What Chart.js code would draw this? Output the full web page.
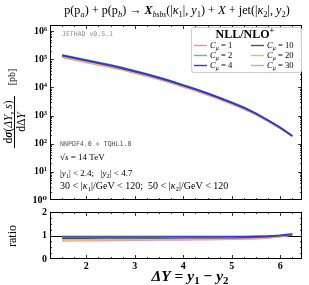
<!DOCTYPE html>
<html><head><meta charset="utf-8">
<script src="https://cdn.jsdelivr.net/npm/chart.js@4.4.1/dist/chart.umd.min.js"></script>
<style>
html,body{margin:0;padding:0;background:#fff;}
#wrap{position:relative;width:309px;height:285px;overflow:hidden;}
canvas{position:absolute;left:0;top:0;}
</style></head><body>
<div id="wrap"><canvas id="c1" width="309" height="285"></canvas><canvas id="c2" width="309" height="285"></canvas></div>
<script>
// ---------- data ----------
const deltaY = [1.5,1.75,2,2.25,2.5,2.75,3,3.25,3.5,3.75,4,4.25,4.5,4.75,5,5.25,5.5,5.75,6,6.25];
// reference cross section used as ratio denominator [pb]
const refXsec = [151600,123300,100200,81400,66100,52600,40800,31600,24000,17800,12900,9350,6610,4580,3090,2050,1250,700,374,181];
const muValues = [1,2,4,10,20,30];
const ratioC1  = [0.84,0.84,0.845,0.845,0.85,0.85,0.85,0.855,0.855,0.86,0.86,0.86,0.865,0.87,0.87,0.88,0.89,0.92,0.96,1.02];
const ratioC2  = [0.97,0.97,0.97,0.97,0.97,0.97,0.97,0.97,0.97,0.97,0.97,0.97,0.97,0.97,0.97,0.975,0.98,0.99,1.01,1.04];
const ratioC4  = [0.93,0.93,0.93,0.93,0.93,0.935,0.935,0.935,0.935,0.94,0.94,0.94,0.94,0.945,0.95,0.955,0.965,0.98,1.02,1.08];
const ratioC10 = [0.88,0.88,0.88,0.885,0.885,0.885,0.89,0.89,0.89,0.89,0.895,0.895,0.895,0.90,0.90,0.91,0.92,0.94,0.98,1.03];
const ratioC20 = [0.80,0.80,0.805,0.81,0.81,0.815,0.82,0.82,0.825,0.83,0.83,0.835,0.84,0.845,0.85,0.86,0.87,0.90,0.95,1.02];
const ratioC30 = [0.76,0.765,0.77,0.775,0.78,0.785,0.79,0.795,0.80,0.80,0.805,0.81,0.815,0.82,0.83,0.84,0.855,0.885,0.94,1.01];
const xTicks = [2,3,4,5,6];
const yTicksMain = [1,10,100,1000,10000,100000,1000000];
const yTicksRatio = [0,1,2];

// ---------- styling ----------
const SERIF = '"Liberation Serif", "DejaVu Serif", serif';
const MONO = '"DejaVu Sans Mono", "Liberation Mono", monospace';
const ratios = [ratioC1, ratioC2, ratioC4, ratioC10, ratioC20, ratioC30];
const colors = ['#f28e8e', '#6dbf6d', '#3030ff', '#505050', '#ffae62', '#c59ee0'];
const orders = [4, 3, 0, 1, 2, 5];
const sup = {'0':'⁰','1':'¹','2':'²','3':'³','4':'⁴','5':'⁵','6':'⁶'};

function fontOf(s, size) {
  const st = s[1] || '';
  let f = '';
  if (st.indexOf('i') >= 0) f += 'italic ';
  if (st.indexOf('b') >= 0) f += 'bold ';
  const fam = st.indexOf('m') >= 0 ? MONO : SERIF;
  return f + Math.round(size * (s[2] || 1) * 10) / 10 + 'px ' + fam;
}
function richWidth(ctx, segs, size) {
  let w = 0;
  segs.forEach(s => { ctx.font = fontOf(s, size); w += ctx.measureText(s[0]).width; });
  return w;
}
function drawRich(ctx, segs, x, y, size, align) {
  const w = richWidth(ctx, segs, size);
  let cx = align === 'center' ? x - w / 2 : (align === 'right' ? x - w : x);
  ctx.textAlign = 'left'; ctx.textBaseline = 'alphabetic';
  segs.forEach(s => {
    ctx.font = fontOf(s, size);
    ctx.fillText(s[0], cx, y + (s[3] || 0) * size);
    cx += ctx.measureText(s[0]).width;
  });
  return w;
}

function frameAndTicks(chart, yMinorVals, yMajorVals, xMinorStep) {
  const ctx = chart.ctx, a = chart.chartArea;
  const xs = chart.scales.x, ys = chart.scales.y;
  ctx.save();
  ctx.strokeStyle = '#000'; ctx.lineWidth = 1;
  ctx.strokeRect(Math.round(a.left) + 0.5, Math.round(a.top) + 0.5, Math.round(a.right - a.left) - 1, Math.round(a.bottom - a.top) - 1);
  ctx.lineWidth = 0.8;
  ctx.beginPath();
  for (let v = 1.25; v <= xs.max + 1e-9; v += xMinorStep) {
    const p = Math.round(xs.getPixelForValue(v)) + 0.5;
    const major = Math.abs(v - Math.round(v)) < 1e-6;
    const L = major ? 4 : 2;
    ctx.moveTo(p, a.bottom); ctx.lineTo(p, a.bottom - L);
    ctx.moveTo(p, a.top); ctx.lineTo(p, a.top + L);
  }
  yMajorVals.forEach(v => {
    const p = Math.round(ys.getPixelForValue(v)) + 0.5;
    if (p < a.top || p > a.bottom) return;
    ctx.moveTo(a.left, p); ctx.lineTo(a.left + 4, p);
    ctx.moveTo(a.right, p); ctx.lineTo(a.right - 4, p);
  });
  yMinorVals.forEach(v => {
    const p = Math.round(ys.getPixelForValue(v)) + 0.5;
    if (p < a.top || p > a.bottom) return;
    ctx.moveTo(a.left, p); ctx.lineTo(a.left + 2, p);
    ctx.moveTo(a.right, p); ctx.lineTo(a.right - 2, p);
  });
  ctx.stroke();
  ctx.restore();
}

const logMinor = [];
for (let d = 0; d < 7; d++) for (let k = 2; k <= 9; k++) logMinor.push(k * Math.pow(10, d));
const ratioMinor = [0.25,0.5,0.75,1.25,1.5,1.75];

const mainPlugin = {
  id: 'mainDeco',
  afterDraw(chart) {
    const ctx = chart.ctx;
    frameAndTicks(chart, logMinor, yTicksMain, 0.25);
    ctx.save();
    ctx.fillStyle = '#000';
    // title
    drawRich(ctx, [
      ['p(p','',1],['a','i',0.7,0.22],[') + p(p','',1],['b','i',0.7,0.22],[') → ','',1],
      ['X','bi',1],['bsbs','i',0.62,0.22],['(|','',1],['κ','i',1],['1','',0.7,0.22],['|, ','',1],
      ['y','i',1],['1','',0.7,0.22],[') + ','',1],['X','i',1.05],[' + jet(|','',1],['κ','i',1],['2','',0.7,0.22],
      ['|, ','',1],['y','i',1],['2','',0.7,0.22],[')','',1]
    ], 177, 14, 12.2, 'center');
    // y label (rotated fraction)
    ctx.save();
    ctx.rotate(-Math.PI / 2);
    drawRich(ctx, [['d','',1],['σ','bi',1],['(','',1],['ΔY','i',1],[', ','',1],['s','i',1],[')','',1]], -122, 12, 11.5, 'center');
    ctx.fillRect(-148, 14, 52, 1);
    drawRich(ctx, [['dΔ','',1],['Y','i',1]], -122, 25, 11.5, 'center');
    drawRich(ctx, [['[pb]','',1]], -77, 15, 10, 'center');
    ctx.restore();
    // annotations
    ctx.fillStyle = '#8c8c8c';
    drawRich(ctx, [['JETHAD v0.5.1','m',1]], 62, 36, 6.5, 'left');
    ctx.fillStyle = '#555';
    drawRich(ctx, [['NNPDF4.0 + TQHL1.0','m',1]], 60, 146, 6.6, 'left');
    ctx.fillStyle = '#000';
    drawRich(ctx, [['√','',1],['s','i',1],[' = 14 TeV','',1]], 60, 160, 9, 'left');
    drawRich(ctx, [['|','',1],['y','i',1],['1','',0.7,0.22],['| < 2.4;   |','',1],['y','i',1],['2','',0.7,0.22],['| < 4.7','',1]], 60, 176, 9, 'left');
    drawRich(ctx, [['30 < |','',1],['κ','i',1],['1','',0.7,0.22],['|/GeV < 120;  50 < |','',1],['κ','i',1],['2','',0.7,0.22],['|/GeV < 120','',1]], 60, 189, 10, 'left');
    // legend
    const lx = 191, ly = 27, lw = 110, lh = 45;
    ctx.fillStyle = 'rgba(255,255,255,0.9)';
    ctx.strokeStyle = '#cfcfcf'; ctx.lineWidth = 1;
    ctx.beginPath(); ctx.roundRect(lx + 0.5, ly + 0.5, lw, lh, 2); ctx.fill(); ctx.stroke();
    ctx.fillStyle = '#000';
    drawRich(ctx, [['NLL/NLO','b',1],['+','b',0.7,-0.4]], 245, 38, 12, 'center');
    chart.data.datasets.forEach((ds, i) => {
      const col = i < 3 ? 0 : 1, row = i % 3;
      const x0 = col === 0 ? 194 : 251, y0 = 45 + row * 10;
      ctx.strokeStyle = ds.borderColor; ctx.lineWidth = 1.4;
      ctx.beginPath(); ctx.moveTo(x0, y0 + 0.5); ctx.lineTo(x0 + 13, y0 + 0.5); ctx.stroke();
      ctx.fillStyle = '#000';
      drawRich(ctx, [['C','i',1],['μ','i',0.7,0.25],[' = ' + muValues[i],'',1]], x0 + 16, y0 + 3, 8.6, 'left');
    });
    ctx.restore();
  }
};

const ratioPlugin = {
  id: 'ratioDeco',
  beforeDatasetsDraw(chart) {
    const ctx = chart.ctx, a = chart.chartArea, ys = chart.scales.y;
    const p = Math.round(ys.getPixelForValue(1)) + 0.5;
    ctx.save(); ctx.strokeStyle = '#000'; ctx.lineWidth = 1;
    ctx.beginPath(); ctx.moveTo(a.left, p); ctx.lineTo(a.right, p); ctx.stroke(); ctx.restore();
  },
  afterDraw(chart) {
    const ctx = chart.ctx;
    frameAndTicks(chart, ratioMinor, yTicksRatio, 0.25);
    ctx.save(); ctx.fillStyle = '#000';
    ctx.save(); ctx.rotate(-Math.PI / 2);
    drawRich(ctx, [['ratio','',1]], -236, 16, 12, 'center');
    ctx.restore();
    drawRich(ctx, [['ΔY','bi',1],[' = ','b',1],['y','bi',1],['1','b',0.7,0.22],[' − ','b',1],['y','bi',1],['2','b',0.7,0.22]], 190, 281, 15.5, 'center');
    ctx.restore();
  }
};

const tickFont = { family: SERIF, size: 10, weight: 'bold' };

const mainDatasets = muValues.map((mu, i) => ({
  label: 'C_μ = ' + mu,
  data: deltaY.map((x, j) => ({ x: x, y: refXsec[j] * ratios[i][j] })),
  borderColor: colors[i], borderWidth: 1.5, pointRadius: 0, fill: false, order: orders[i]
}));
const ratioDatasets = muValues.map((mu, i) => ({
  label: 'C_μ = ' + mu,
  data: deltaY.map((x, j) => ({ x: x, y: ratios[i][j] })),
  borderColor: colors[i], borderWidth: 1.2, pointRadius: 0, fill: false, order: orders[i]
}));

new Chart(document.getElementById('c1'), {
  type: 'line',
  data: { datasets: mainDatasets },
  plugins: [mainPlugin],
  options: {
    responsive: false, animation: false, devicePixelRatio: 1,
    layout: { padding: { left: 0, right: 7, top: 25, bottom: 85 } },
    plugins: { legend: { display: false }, tooltip: { enabled: false } },
    scales: {
      x: { type: 'linear', min: 1.25, max: 6.45, grid: { display: false, drawTicks: false }, border: { display: false },
           ticks: { display: false }, afterFit: s => { s.height = 0; } },
      y: { type: 'logarithmic', min: 1, max: Math.pow(10, 6.22), grid: { display: false, drawTicks: false }, border: { display: false },
           afterBuildTicks: s => { s.ticks = yTicksMain.map(v => ({ value: v })); },
           ticks: { font: tickFont, color: '#000', padding: 3,
                    callback: v => '10' + String(Math.round(Math.log10(v))).split('').map(c => sup[c]).join('') },
           afterFit: s => { s.width = 50; } }
    }
  }
});

new Chart(document.getElementById('c2'), {
  type: 'line',
  data: { datasets: ratioDatasets },
  plugins: [ratioPlugin],
  options: {
    responsive: false, animation: false, devicePixelRatio: 1,
    layout: { padding: { left: 0, right: 7, top: 212, bottom: 0 } },
    plugins: { legend: { display: false }, tooltip: { enabled: false } },
    scales: {
      x: { type: 'linear', min: 1.25, max: 6.45, grid: { display: false, drawTicks: false }, border: { display: false },
           afterBuildTicks: s => { s.ticks = xTicks.map(v => ({ value: v })); },
           ticks: { font: tickFont, color: '#000', padding: 1, maxRotation: 0, callback: v => String(v) },
           afterFit: s => { s.height = 26; } },
      y: { type: 'linear', min: 0, max: 2, grid: { display: false, drawTicks: false }, border: { display: false },
           afterBuildTicks: s => { s.ticks = yTicksRatio.map(v => ({ value: v })); },
           ticks: { font: tickFont, color: '#000', padding: 3, callback: v => String(v) },
           afterFit: s => { s.width = 50; } }
    }
  }
});
</script>
</body></html>
